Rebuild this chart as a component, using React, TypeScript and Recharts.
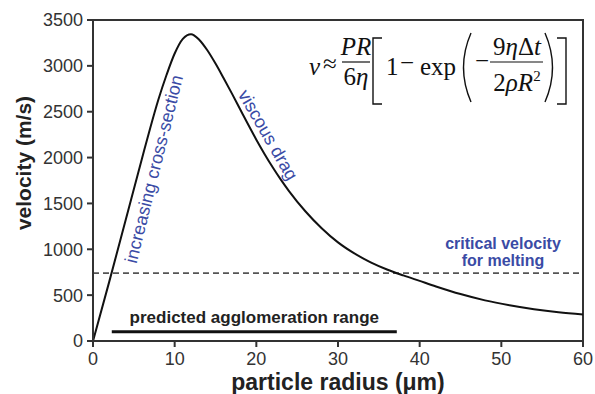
import { Line, LineChart, ReferenceArea, ReferenceLine, XAxis, YAxis } from "recharts";

// particle radius (µm) and velocity (m/s)
const radius = [0, 2, 4, 6, 7, 8, 9, 10, 11, 12, 13, 14, 15, 16, 17, 18, 19, 20, 21, 22, 23, 24, 26, 28, 30, 32, 34, 36, 38, 40, 42, 45, 48, 51, 54, 57, 60];
const velocity = [0, 650, 1320, 1990, 2320, 2630, 2900, 3135, 3295, 3345, 3285, 3170, 3025, 2865, 2700, 2530, 2360, 2195, 2040, 1895, 1760, 1635, 1415, 1230, 1075, 955, 858, 780, 715, 655, 595, 512, 443, 390, 347, 314, 290];

const xTicks = [0, 10, 20, 30, 40, 50, 60];
const yTicks = [0, 500, 1000, 1500, 2000, 2500, 3000, 3500];

const criticalVelocity = 740;
const agglomeration = [2.3, 37.2];
const agglomerationLevel = 100;

const data = radius.map((r, i) => ({ r, v: velocity[i] }));

const axisColor = "#333";
const blue = "#3a4ba5";
const serif = "'Liberation Serif', 'Times New Roman', serif";
const sans = "'Liberation Sans', Arial, Helvetica, sans-serif";

function Formula() {
  return (
    <g fontFamily={serif} fontSize={25} fill="#111">
      <text x={309} y={75} fontStyle="italic">v</text>
      <text x={323} y={72}>≈</text>
      <text x={356} y={55} textAnchor="middle" fontStyle="italic">PR</text>
      <line x1={342} x2={370} y1={62} y2={62} stroke="#111" strokeWidth={1.2} />
      <text x={356} y={85} textAnchor="middle">6<tspan fontStyle="italic">η</tspan></text>
      <path d="M382,38 H373 V104 H382" fill="none" stroke="#111" strokeWidth={1.4} />
      <text x={386} y={75}>1</text>
      <text x={400} y={71}>−</text>
      <text x={420} y={75}>exp</text>
      <path d="M471,33 Q456,67.5 471,102" fill="none" stroke="#111" strokeWidth={1.4} />
      <text x={475} y={69}>−</text>
      <text x={517} y={55} textAnchor="middle">9<tspan fontStyle="italic">η</tspan>Δ<tspan fontStyle="italic">t</tspan></text>
      <line x1={490} x2={543} y1={62} y2={62} stroke="#111" strokeWidth={1.2} />
      <text x={517} y={91} textAnchor="middle">2<tspan fontStyle="italic">ρR</tspan><tspan fontSize={15} dy={-10}>2</tspan></text>
      <path d="M545,33 Q560,67.5 545,102" fill="none" stroke="#111" strokeWidth={1.4} />
      <path d="M557,38 H566 V104 H557" fill="none" stroke="#111" strokeWidth={1.4} />
    </g>
  );
}

export default function App() {
  return (
    <div style={{ position: "fixed", left: 0, top: 0, width: 595, height: 394, background: "#fff" }}>
      <LineChart width={595} height={394} data={data} margin={{ top: 20, right: 12, bottom: 0, left: 0 }}>
        <XAxis
          dataKey="r"
          type="number"
          domain={[0, 60]}
          ticks={xTicks}
          height={53}
          tickSize={6}
          tickMargin={5}
          stroke={axisColor}
          strokeWidth={2}
          tick={{ fontSize: 18, fill: axisColor, fontFamily: sans }}
        />
        <YAxis
          type="number"
          domain={[0, 3500]}
          ticks={yTicks}
          width={93}
          tickSize={6}
          tickMargin={4}
          stroke={axisColor}
          strokeWidth={2}
          tick={{ fontSize: 18, fill: axisColor, fontFamily: sans }}
        />
        <ReferenceArea x1={0} x2={60} y1={0} y2={3500} fill="none" fillOpacity={0} stroke={axisColor} strokeWidth={2} />
        <ReferenceLine y={criticalVelocity} stroke="#555" strokeWidth={1.6} strokeDasharray="6 4" />
        <ReferenceLine
          segment={[
            { x: agglomeration[0], y: agglomerationLevel },
            { x: agglomeration[1], y: agglomerationLevel }
          ]}
          stroke="#111"
          strokeWidth={3}
          label={{
            value: "predicted agglomeration range",
            position: "top",
            offset: 9,
            style: { fontSize: 17, fontWeight: 700, fill: "#222", fontFamily: sans }
          }}
        />
        <Line type="monotone" dataKey="v" stroke="#111" strokeWidth={2} dot={false} isAnimationActive={false} />
      </LineChart>
      <svg width={595} height={394} style={{ position: "absolute", left: 0, top: 0, pointerEvents: "none" }}>
        <Formula />
        <g fontFamily={sans}>
          <text x={31} y={163} transform="rotate(-90 31 163)" textAnchor="middle" fontSize={21} fontWeight={700} fill="#222">
            velocity (m/s)
          </text>
          <text x={338} y={390} textAnchor="middle" fontSize={23} fontWeight={700} fill="#222">
            particle radius (μm)
          </text>
          <text x={154} y={169} transform="rotate(-76 154 169)" textAnchor="middle" dominantBaseline="central" fontSize={18} fill={blue}>
            increasing cross-section
          </text>
          <text x={268} y={135} transform="rotate(60 268 135)" textAnchor="middle" dominantBaseline="central" fontSize={18} fill={blue}>
            viscous drag
          </text>
          <text x={503} y={249} textAnchor="middle" fontSize={16} fontWeight={700} fill={blue}>critical velocity</text>
          <text x={503} y={266} textAnchor="middle" fontSize={16} fontWeight={700} fill={blue}>for melting</text>
        </g>
      </svg>
    </div>
  );
}
